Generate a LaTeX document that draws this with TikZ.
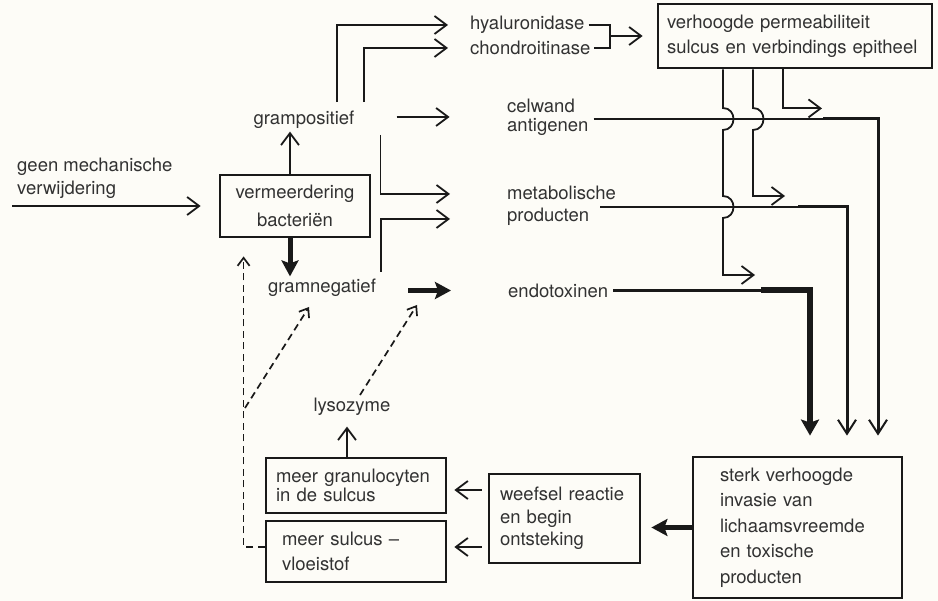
\documentclass[tikz,border=0pt]{standalone}
\usepackage{fontspec}
\setmainfont{TeX Gyre Heros}
\usetikzlibrary{arrows.meta,calc}
\definecolor{bg}{RGB}{253,252,247}
\definecolor{ink}{RGB}{25,25,25}
\definecolor{txt}{RGB}{50,50,50}
\begin{document}
\begin{tikzpicture}[x=1pt,y=-1pt,
  every node/.style={font=\fontsize{18.5}{24}\selectfont, text=txt, inner sep=0pt},
  ln/.style={draw=ink, line width=1.8pt},
  arr/.style={ln, -{Straight Barb[length=12pt,width=18pt]}},
  medarr/.style={draw=ink, line width=3pt, -{Straight Barb[length=14pt,width=18pt,line width=2pt]}},
  bigarr/.style={draw=ink, line width=6pt, -{Stealth[length=16pt,width=18pt,inset=3pt]}},
  tharr/.style={draw=ink, line width=5pt, -{Stealth[length=16pt,width=17pt,inset=3pt]}},
  dsh/.style={draw=ink, line width=1.7pt, dash pattern=on 7pt off 4.5pt, -{Straight Barb[length=8pt,width=12pt]}},
  box/.style={draw=ink, line width=2.8pt, align=left}
]
\fill[bg] (0,0) rectangle (938,601);
\useasboundingbox (0,0) rectangle (938,601);

% nodes
\node[anchor=west, align=left, font=\fontsize{18.5}{23}\selectfont] (geen) at (17,178.5) {geen mechanische\\verwijdering};
\node[box, align=center, text width=134pt, inner xsep=8pt, minimum height=62pt, font=\fontsize{18.5}{28}\selectfont] (verm) at (295,206) {vermeerdering\\bacteriën};
\node (gp) at (304,120) {grampositief};
\node (gn) at (322,288) {gramnegatief};
\node[anchor=west] (hy) at (470,25) {hyaluronidase};
\node[anchor=west] (ch) at (470,48) {chondroitinase};
\node[anchor=west] (cel) at (507,106) {celwand};
\node[anchor=west] (ant) at (507,127) {antigenen};
\node[anchor=west] (met) at (507,193) {metabolische};
\node[anchor=west] (prod) at (507,217) {producten};
\node[anchor=west] (endo) at (508,290.5) {endotoxinen};
\node[box, text width=256pt, inner xsep=9pt, minimum height=64pt, font=\fontsize{18.5}{25}\selectfont] (perm) at (795,36) {verhoogde permeabiliteit\\sulcus en verbindings epitheel};
\node (lys) at (352,407) {lysozyme};
\node[box, text width=160pt, inner xsep=10pt, minimum height=55pt, font=\fontsize{18.5}{19}\selectfont] (gran) at (356,485.5) {meer granulocyten\\in de sulcus};
\node[box, text width=148pt, inner xsep=16pt, minimum height=61pt, font=\fontsize{18.5}{25}\selectfont] (sulc) at (356,551.5) {meer sulcus –\\vloeistof};
\node[box, text width=129pt, inner xsep=11pt, minimum height=89pt, font=\fontsize{18.5}{22.5}\selectfont] (weef) at (564.5,518.5) {weefsel reactie\\en begin\\ontsteking};
\node[box, text width=155pt, inner xsep=27pt, minimum height=141pt, font=\fontsize{18.5}{25.5}\selectfont] (sterk) at (797.5,527.5) {sterk verhoogde\\invasie van\\lichaamsvreemde\\en toxische\\producten};

% connectors left part
\draw[arr] ($(verm.west -| geen.west)+(-5,0)$) -- ([xshift=-18pt]verm.west);
\draw[arr] ([xshift=-5pt]verm.north) -- ++(0,-42);
\draw[tharr] ([xshift=-5pt]verm.south) -- ++(0,38);
\draw[arr] ([shift={(33,-9)}]gp.north) |- ([xshift=-22pt]hy.west);
\draw[arr] ([shift={(60,-9)}]gp.north) |- ([xshift=-22pt]ch.west);
\draw[arr] ([shift={(42,-3)}]gp.east) -- ++(53,0);
\draw[arr] ([shift={(26,15)}]gp.east) |- ([shift={(-57,1)}]met.west);
\draw[arr] ([shift={(5,-16)}]gn.east) |- ([shift={(-57,2)}]prod.west);
\draw[tharr] ([shift={(32,2.5)}]gn.east) -- ([xshift=-57pt]endo.west);

% bracket
\coordinate (bx) at (610,36);
\draw[ln] ([xshift=4pt]hy.east) -- (hy.east -| bx) -- (ch.east -| bx) -- ([xshift=3pt]ch.east);
\draw[arr] (bx) -- ([xshift=-14pt]perm.west);

% verticals from perm
\draw[arr] ([xshift=-12pt]perm.south) |- ++(39,39);
\draw[arr] ([xshift=-42pt]perm.south) -- (753,108) .. controls (767,108) and (767,130) .. (753,130) -- (753,196) -- (785,196);
\draw[arr] ([xshift=-72pt]perm.south) -- (723,108) .. controls (737,108) and (737,130) .. (723,130) -- (723,196) .. controls (737,196) and (737,218) .. (723,218) -- (723,275) -- (755,275);

% celwand line
\coordinate (c1) at (823,119);
\draw[ln] ([shift={(5,-8)}]ant.east) -- (c1);
\draw[medarr] (c1) -| ([shift={(80.5,-20)}]sterk.north);
% metabolische line
\coordinate (m1) at (798,207);
\draw[ln] ([shift={(11,-10)}]prod.east) -- (m1);
\draw[medarr] (m1) -| ([shift={(49.5,-20)}]sterk.north);
% endotoxinen line
\coordinate (e1) at (761,290.5);
\draw[draw=ink, line width=2.8pt] ([xshift=5pt]endo.east) -- (e1);
\draw[bigarr] (e1) -| ([shift={(12.5,-20)}]sterk.north);

% bottom
\draw[tharr, shorten >=10pt] (sterk.west) -- (sterk.west -| weef.east);
\draw[arr, shorten <=6pt, shorten >=7pt] ($(weef.west |- gran.east)+(0,4.5)$) -- ($(gran.east)+(0,4.5)$);
\draw[arr, shorten <=6pt, shorten >=7pt] ($(weef.west |- sulc.east)+(0,-4.5)$) -- ($(sulc.east)+(0,-4.5)$);
\draw[arr] ([xshift=-9pt]gran.north) -- ++(0,-30);

% dashed
\coordinate (dj) at (245,408);
\draw[dsh] ($(sulc.west)+(0,-4.5)$) -| ([shift={(25,18)}]verm.south west);
\draw[dsh] (dj) -- ([shift={(-13,19)}]gn.center);
\draw[dsh] ([shift={(8,-3)}]lys.north) -- ([shift={(95,17)}]gn.center);
\end{tikzpicture}
\end{document}
